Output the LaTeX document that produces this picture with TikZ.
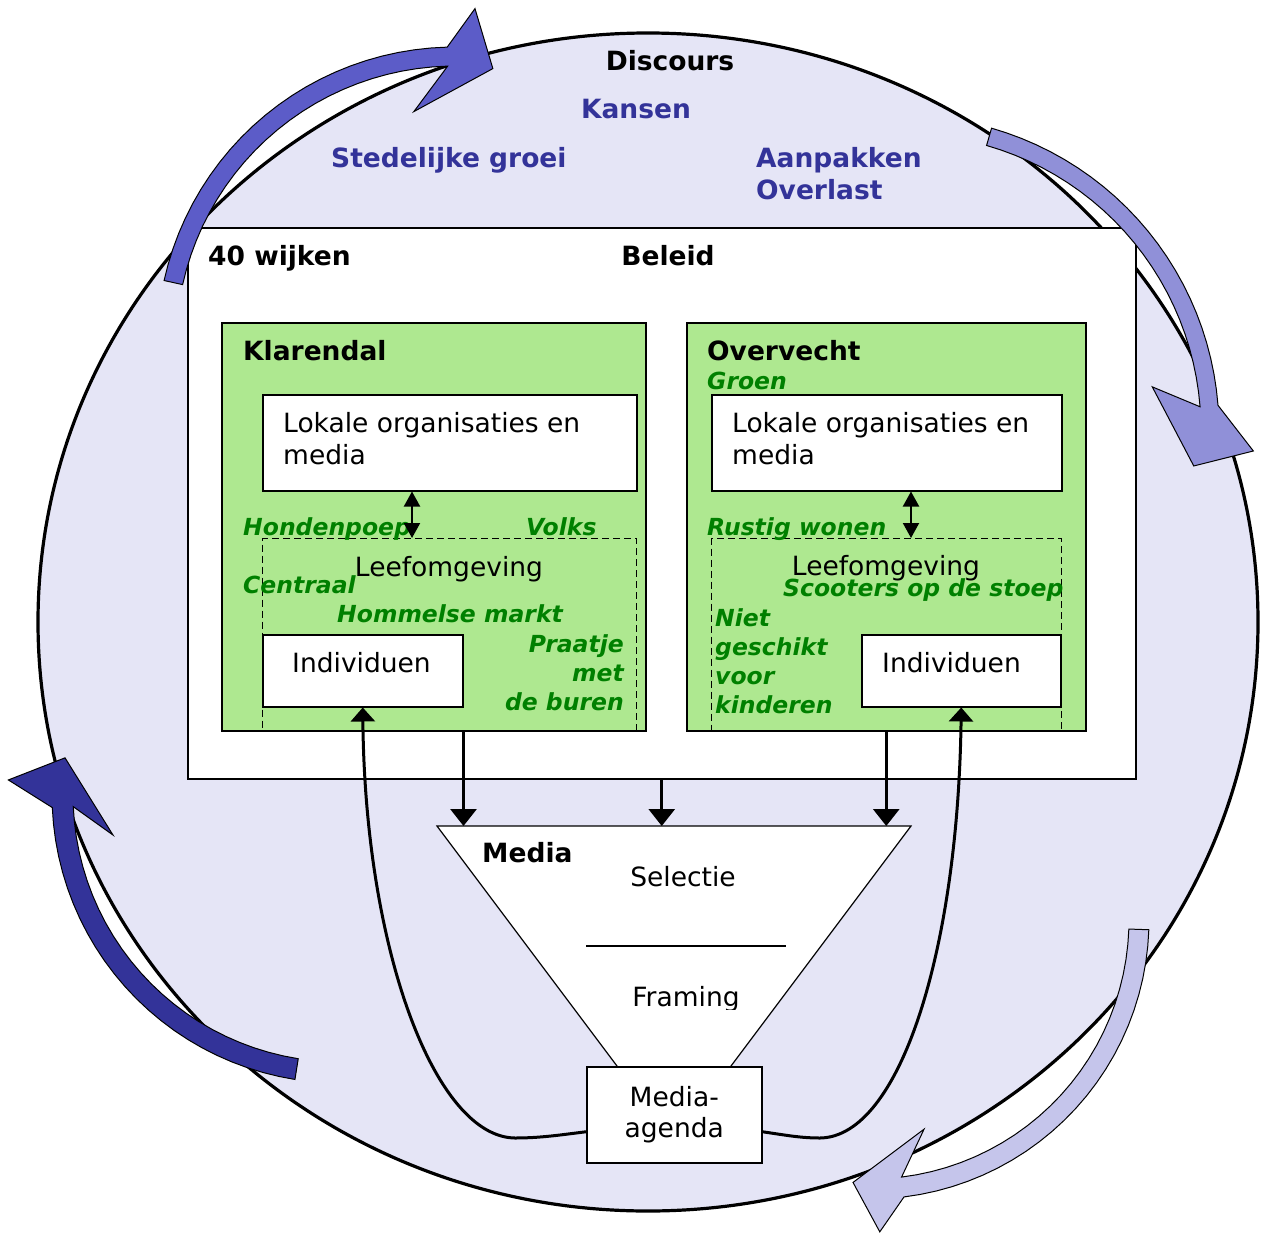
\documentclass[tikz,border=0pt]{standalone}
\usepackage{fontspec}
\setmainfont{DejaVu Sans}
\usetikzlibrary{arrows.meta, calc, positioning}
\definecolor{discours}{RGB}{229,229,246}
\definecolor{wijkgroen}{RGB}{174,232,144}
\definecolor{tekstblauw}{RGB}{51,51,153}
\definecolor{tekstgroen}{RGB}{0,128,0}
\definecolor{pijla}{RGB}{92,92,200}
\definecolor{pijlb}{RGB}{144,144,216}
\definecolor{pijlc}{RGB}{197,197,235}
\definecolor{pijld}{RGB}{51,51,153}
\tikzset{
	kader/.style={draw, line width=1.5pt, inner sep=0, anchor=north west},
	wijk/.style={kader, fill=wijkgroen},
	wit/.style={kader, fill=white},
	stippel/.style={draw, line width=1.4pt, dash pattern=on 7pt off 4pt, inner sep=0, anchor=north west},
	txt/.style={inner sep=0, font=\fontsize{26.5}{31.5}\selectfont},
	vet/.style={inner sep=0, font=\fontsize{26.5}{31.5}\selectfont\bfseries},
	blauw/.style={vet, text=tekstblauw},
	groen/.style={inner sep=0, text=tekstgroen, font=\fontsize{23.5}{29}\selectfont\bfseries\itshape},
	ringpijl/.style={draw=black, line width=1pt},
	pijl/.style={line width=3pt, -{Triangle[width=26pt,length=17pt]}},
	dubbel/.style={line width=2pt, {Triangle[width=16pt,length=15pt]}-{Triangle[width=16pt,length=15pt]}},
	boog/.style={line width=3pt, -{Triangle[width=24pt,length=14pt]}}
}

\begin{document}
\begin{tikzpicture}[x=1pt, y=-1pt]
	\useasboundingbox (0,0) rectangle (1264,1234);
	% Discours
	\filldraw[fill=discours, line width=3.2pt] (648,622) ellipse [x radius=610, y radius=589];
	\node[vet, anchor=base] (discours) at (670,70) {Discours};
	\node[blauw, anchor=base] (kansen) at (636,118) {Kansen};
	\node[blauw, anchor=base west] (groei) at (331,167) {Stedelijke groei};
	\node[blauw, anchor=base west, align=left] (overlast) at (756,199) {Aanpakken\\Overlast};
	
	% Beleid
	\node[wit, minimum width=948, minimum height=551] (beleid) at (187,227) {};
	\node[vet, anchor=base west] (wijken) at (208,265) {40 wijken};
	\node[vet, anchor=base] (beleidtxt) at (668,265) {Beleid};
	
	% wijken
	\node[wijk, minimum width=424, minimum height=408] (klarendal) at (221,322) {};
	\node[wijk, minimum width=399, minimum height=408] (overvecht) at (686,322) {};
	\node[wit, minimum width=374, minimum height=96] (lokaal1) at (262,394) {};
	\node[wit, minimum width=350, minimum height=96] (lokaal2) at (711,394) {};
	\node[stippel, minimum width=374, minimum height=192] (leef1) at (262,538) {};
	\node[stippel, minimum width=350, minimum height=192] (leef2) at (711,538) {};
	\node[wit, minimum width=200, minimum height=72] (indiv1) at (262,634) {};
	\node[wit, minimum width=199, minimum height=72] (indiv2) at (861,634) {};
	
	\node[vet, anchor=base west] (klartxt) at (243,360) {Klarendal};
	\node[txt, anchor=base west, align=left] (lokaaltxt1) at (283,464) {Lokale organisaties en\\media};
	\node[groen, anchor=base west] (honden) at (243,535) {Hondenpoep};
	\node[groen, anchor=base west] (volks) at (526,535) {Volks};
	\node[txt, anchor=base] (leeftxt1) at (449,576) {Leefomgeving};
	\node[groen, anchor=base west] (centraal) at (243,593) {Centraal};
	\node[groen, anchor=base west] (markt) at (337,622) {Hommelse markt};
	\node[groen, anchor=base east, align=right] (praatje) at (624,710) {Praatje\\met\\de buren};
	\node[txt, anchor=base west] (indivtxt1) at (292,672) {Individuen};
	
	\node[vet, anchor=base west] (overvtxt) at (707,360) {Overvecht};
	\node[groen, anchor=base west] (groen) at (707,389) {Groen};
	\node[txt, anchor=base west, align=left] (lokaaltxt2) at (732,464) {Lokale organisaties en\\media};
	\node[groen, anchor=base west] (rustig) at (707,535) {Rustig wonen};
	\node[txt, anchor=base] (leeftxt2) at (886,575) {Leefomgeving};
	\node[groen, anchor=base west] (scooters) at (783,596) {Scooters op de stoep};
	\node[groen, anchor=base west, align=left] (kinderen) at (715,713) {Niet\\geschikt\\voor\\kinderen};
	\node[txt, anchor=base west] (indivtxt2) at (882,672) {Individuen};
	
	\coordinate (dp1) at (412,0);
	\coordinate (dp2) at (911,0);
	\draw[dubbel] (lokaal1.south -| dp1) -- (leef1.north -| dp1);
	\draw[dubbel] (lokaal2.south -| dp2) -- (leef2.north -| dp2);
	
	% Media
	\draw[fill=white, line width=1.2pt] (437,826) coordinate (trL) -- (911,826) coordinate (trR) -- (674,1142) coordinate (trP) -- cycle;
	\node[vet, anchor=base west] (mediatxt) at (482,862) {Media};
	\node[txt, anchor=base] (selectie) at (683,886) {Selectie};
	\draw[line width=1.2pt] (586,946) -- (786,946);
	\begin{scope}
		\clip (560,960) rectangle (820,1009);
		\node[txt, anchor=base] (framing) at (686,1006) {Framing};
	\end{scope}
	\node[wit, minimum width=175, minimum height=96, align=center, font=\fontsize{26.5}{31}\selectfont] (agenda) at (586,1066) {Media-\\agenda};
	
	\draw[pijl] (indiv1.east |- klarendal.south) -- (indiv1.east |- trL);
	\draw[pijl] (beleid.south) -- (beleid.south |- trL);
	\draw[pijl] (overvecht.south) -- (overvecht.south |- trR);
	
	\draw[boog] ([yshift=-17pt]agenda.west) .. controls (560,1135) and (540,1138) .. (515,1138) .. controls (435,1137) and (365,950) .. (indiv1.south);
	\draw[boog] ([yshift=-17pt]agenda.east) .. controls (785,1135) and (800,1138) .. (820,1138) .. controls (900,1137) and (958,950) .. (indiv2.south);
	
	% ringpijlen
	\begin{scope}[shift={(455,345)}]
		\filldraw[ringpijl, fill=pijla] plot[domain=192.5:268.5, variable=\t] ({298*cos(\t)},{298*sin(\t)}) -- (273.4:337) -- (277.8:279) -- (260:237) -- plot[domain=268.5:192.5, variable=\t] ({279*cos(\t)},{279*sin(\t)}) -- cycle;
	\end{scope}
	\begin{scope}[shift={(905,430)}]
		\filldraw[ringpijl, fill=pijlb] plot[domain=286:355.5, variable=\t] ({314*cos(\t)},{314*sin(\t)}) -- (363.45:349) -- (367.1:291) -- (350.1:251) -- plot[domain=355.5:286, variable=\t] ({296*cos(\t)},{296*sin(\t)}) -- cycle;
	\end{scope}
	\begin{scope}[shift={(870,920)}]
		\filldraw[ringpijl, fill=pijlc] plot[domain=2:83, variable=\t] ({279*cos(\t)},{279*sin(\t)}) -- (88.2:312) -- (93.7:263) -- (75.5:216) -- plot[domain=83:2, variable=\t] ({259*cos(\t)},{259*sin(\t)}) -- cycle;
	\end{scope}
	\begin{scope}[shift={(340,795)}]
		\filldraw[ringpijl, fill=pijld] plot[domain=99:177.5, variable=\t] ({288*cos(\t)},{288*sin(\t)}) -- (182.6:332) -- (187.7:277.5) -- (170:230.5) -- plot[domain=177.5:99, variable=\t] ({267*cos(\t)},{267*sin(\t)}) -- cycle;
	\end{scope}
\end{tikzpicture}
\end{document}
